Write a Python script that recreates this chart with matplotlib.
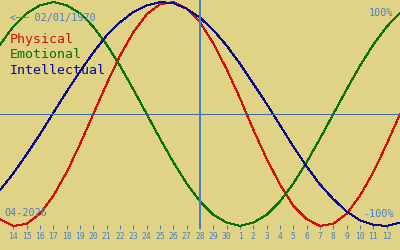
import matplotlib
matplotlib.use("Agg")
import matplotlib.pyplot as plt

# day labels along the bottom (index 0..28), plus one day either side for the curve ends
days = list(range(14, 31)) + list(range(1, 13))
idx = list(range(-1, 30))

physical = [-94, -100, -98, -89, -73, -52, -27, 0, 27, 52, 73, 89, 98, 100, 94, 82,
            63, 40, 14, -14, -40, -63, -82, -94, -100, -98, -89, -73, -52, -27, 0]
emotional = [62, 78, 90, 97, 100, 97, 90, 78, 62, 43, 22, 0, -22, -43, -62, -78,
             -90, -97, -100, -97, -90, -78, -62, -43, -22, 0, 22, 43, 62, 78, 90]
intellectual = [-68, -53, -36, -18, 1, 20, 38, 55, 70, 82, 91, 97, 100, 99, 94, 86,
                75, 61, 45, 27, 9, -10, -29, -47, -63, -76, -87, -95, -99, -100, -97]

today = 14
birth = "02/01/1970"
month = "04-2026"

bg = "#e0d385"
txt = "#4a7ec4"
mono = "DejaVu Sans Mono"

fig = plt.figure(figsize=(4, 2.5), dpi=100, facecolor=bg)
ax = fig.add_axes([0, 21 / 250, 1, 229 / 250])
ax.set_facecolor(bg)

ax.plot(idx, physical, color="#d01010", lw=0.72, antialiased=False)
ax.plot(idx, emotional, color="#0a700a", lw=0.72, antialiased=False)
ax.plot(idx, intellectual, color="#0a0a88", lw=0.72, antialiased=False)

ax.axhline(0, color="#3f6e9e", lw=0.72, antialiased=False)
ax.axvline(today, color=txt, lw=1.3, antialiased=False)

ax.set_xlim(-1, 29)
ax.set_ylim(-102.7, 101.8)
ax.set_yticks([])
ax.set_xticks(range(len(days)))
ax.set_xticklabels([str(d) for d in days], fontfamily=mono, fontsize=5.8, color=txt)
ax.tick_params(axis="x", direction="in", length=3, width=0.8, color=txt, pad=2.5)
for s in ax.spines.values():
    s.set_visible(False)

def t(x, y, s, **kw):
    fig.text(x / 400, 1 - y / 250, s, va="baseline", family=mono, **kw)

t(10, 20.5, "<\u2500\u2500 " + birth, fontsize=7.3, color=txt)
t(393, 16, "100%", fontsize=7.3, color=txt, ha="right")
t(394, 217, "-100%", fontsize=7.3, color=txt, ha="right")
t(4, 216, month, fontsize=7.3, color=txt)
t(10, 43.5, "Physical", fontsize=9.5, color="#d01010")
t(10, 58.5, "Emotional", fontsize=9.5, color="#0a700a")
t(10, 73.5, "Intellectual", fontsize=9.5, color="#0a0a88")

fig.savefig("out.png", dpi=100, facecolor=bg)
